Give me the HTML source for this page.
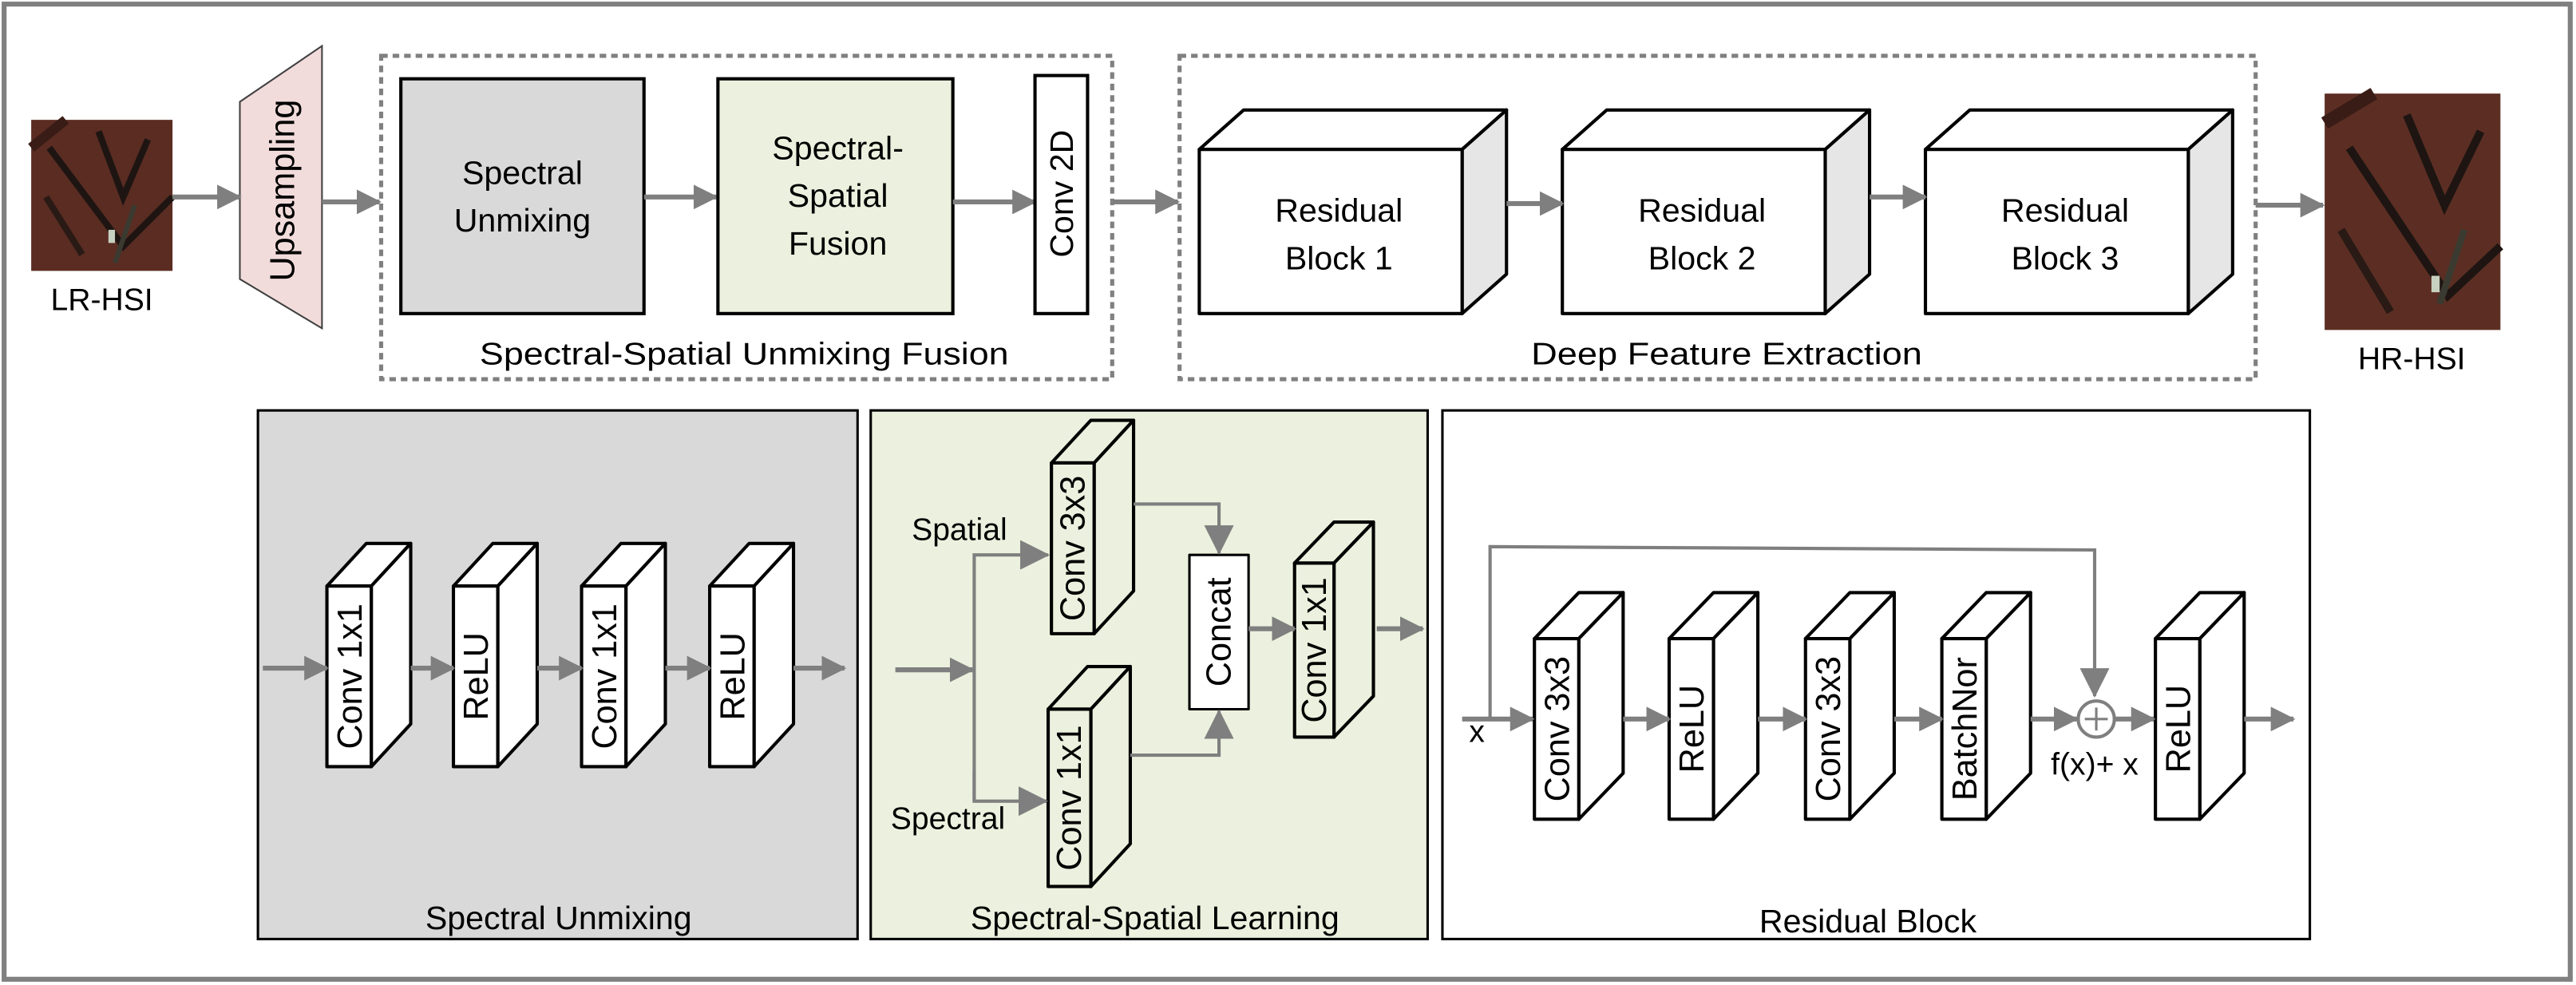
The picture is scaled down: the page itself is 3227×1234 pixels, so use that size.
<!DOCTYPE html>
<html><head><meta charset="utf-8"><style>html,body{margin:0;padding:0;background:#fff}svg{display:block}</style></head><body>
<svg width="3227" height="1234" viewBox="0 0 1568 600" preserveAspectRatio="none" xmlns="http://www.w3.org/2000/svg" font-family="Liberation Sans, sans-serif">
<defs>
<marker id="ah" markerWidth="5" markerHeight="5" refX="4.6" refY="2.5" orient="auto" markerUnits="strokeWidth"><path d="M0,0 L5,2.5 L0,5 z" fill="#7f7f7f"/></marker>
<marker id="ah2" markerWidth="9" markerHeight="9" refX="8.5" refY="4.5" orient="auto" markerUnits="strokeWidth"><path d="M0,0 L9,4.5 L0,9 z" fill="#7f7f7f"/></marker>
</defs>
<rect x="2.5" y="2.5" width="1562" height="594" fill="#fff" stroke="#808080" stroke-width="3"/>

<!-- LR-HSI image -->
<g>
<rect x="19" y="73" width="86" height="92" fill="#5a2c22"/>
<path d="M19,90 L40,73" stroke="#3a1c16" stroke-width="6" fill="none"/>
<path d="M30,90 L75,150 L105,120" stroke="#1e1512" stroke-width="4" fill="none"/>
<path d="M60,80 L75,120 L90,85" stroke="#1e1512" stroke-width="4" fill="none"/>
<path d="M28,120 L50,155" stroke="#2a1a15" stroke-width="4" fill="none"/>
<path d="M82,125 L70,160" stroke="#3a3a30" stroke-width="3" fill="none"/>
<rect x="66" y="140" width="4" height="8" fill="#c8d0c0"/>
</g>
<text x="62" y="189" font-size="19" text-anchor="middle">LR-HSI</text>

<!-- Upsampling -->
<polygon points="146,62 196,28 196,200 146,170" fill="#f2dcdb" stroke="#404040" stroke-width="1"/>
<text transform="translate(179,116) rotate(-90)" font-size="21" text-anchor="middle">Upsampling</text>
<line x1="105" y1="120" x2="146" y2="120" stroke="#7f7f7f" stroke-width="3" marker-end="url(#ah)"/>
<line x1="196" y1="123" x2="231" y2="123" stroke="#7f7f7f" stroke-width="3" marker-end="url(#ah)"/>

<!-- Dashed box 1 -->
<rect x="232" y="34" width="445" height="197" fill="none" stroke="#808080" stroke-width="2.5" stroke-dasharray="4,3"/>
<rect x="244" y="48" width="148" height="143" fill="#d9d9d9" stroke="#000" stroke-width="2"/>
<text x="318" y="112" font-size="20" text-anchor="middle">Spectral</text>
<text x="318" y="141" font-size="20" text-anchor="middle">Unmixing</text>
<line x1="392" y1="120" x2="436" y2="120" stroke="#7f7f7f" stroke-width="3" marker-end="url(#ah)"/>
<rect x="437" y="48" width="143" height="143" fill="#ebf1de" stroke="#000" stroke-width="2"/>
<text x="510" y="97" font-size="20" text-anchor="middle">Spectral-</text>
<text x="510" y="126" font-size="20" text-anchor="middle">Spatial</text>
<text x="510" y="155" font-size="20" text-anchor="middle">Fusion</text>
<line x1="580" y1="123" x2="630" y2="123" stroke="#7f7f7f" stroke-width="3" marker-end="url(#ah)"/>
<rect x="630" y="46" width="32" height="145" fill="#fff" stroke="#000" stroke-width="2"/>
<text transform="translate(653,118) rotate(-90)" font-size="20" text-anchor="middle">Conv 2D</text>
<text x="453" y="222" font-size="19" text-anchor="middle" textLength="322" lengthAdjust="spacingAndGlyphs">Spectral-Spatial Unmixing Fusion</text>
<line x1="677" y1="123" x2="717" y2="123" stroke="#7f7f7f" stroke-width="3" marker-end="url(#ah)"/>

<!-- Dashed box 2 -->
<rect x="718" y="34" width="655" height="197" fill="none" stroke="#808080" stroke-width="2.5" stroke-dasharray="4,3"/>
<g stroke="#000" stroke-width="2" stroke-linejoin="round">
<polygon points="730,91 757,67 917,67 890,91" fill="#fff"/>
<polygon points="890,91 917,67 917,167 890,191" fill="#e6e6e6"/>
<rect x="730" y="91" width="160" height="100" fill="#fff"/>
<polygon points="951,91 978,67 1138,67 1111,91" fill="#fff"/>
<polygon points="1111,91 1138,67 1138,167 1111,191" fill="#e6e6e6"/>
<rect x="951" y="91" width="160" height="100" fill="#fff"/>
<polygon points="1172,91 1199,67 1359,67 1332,91" fill="#fff"/>
<polygon points="1332,91 1359,67 1359,167 1332,191" fill="#e6e6e6"/>
<rect x="1172" y="91" width="160" height="100" fill="#fff"/>
</g>
<text x="815" y="135" font-size="20" text-anchor="middle">Residual</text>
<text x="815" y="164" font-size="20" text-anchor="middle">Block 1</text>
<text x="1036" y="135" font-size="20" text-anchor="middle">Residual</text>
<text x="1036" y="164" font-size="20" text-anchor="middle">Block 2</text>
<text x="1257" y="135" font-size="20" text-anchor="middle">Residual</text>
<text x="1257" y="164" font-size="20" text-anchor="middle">Block 3</text>
<line x1="917" y1="124" x2="951" y2="124" stroke="#7f7f7f" stroke-width="3" marker-end="url(#ah)"/>
<line x1="1138" y1="120" x2="1172" y2="120" stroke="#7f7f7f" stroke-width="3" marker-end="url(#ah)"/>
<text x="1051" y="222" font-size="19" text-anchor="middle" textLength="238" lengthAdjust="spacingAndGlyphs">Deep Feature Extraction</text>
<line x1="1373" y1="125" x2="1414" y2="125" stroke="#7f7f7f" stroke-width="3" marker-end="url(#ah)"/>

<!-- HR-HSI image -->
<g>
<rect x="1415" y="57" width="107" height="144" fill="#5c2e23"/>
<path d="M1415,75 L1445,57" stroke="#3a1c16" stroke-width="8" fill="none"/>
<path d="M1430,90 L1490,180 L1522,150" stroke="#1e1512" stroke-width="5" fill="none"/>
<path d="M1465,70 L1488,125 L1510,80" stroke="#1e1512" stroke-width="5" fill="none"/>
<path d="M1425,140 L1455,190" stroke="#2a1a15" stroke-width="5" fill="none"/>
<path d="M1500,140 L1485,185" stroke="#3a3a30" stroke-width="4" fill="none"/>
<rect x="1480" y="168" width="5" height="10" fill="#c8d0c0"/>
</g>
<text x="1468" y="225" font-size="19" text-anchor="middle">HR-HSI</text>

<!-- Panel 1 -->
<rect x="157" y="250" width="365" height="322" fill="#d9d9d9" stroke="#000" stroke-width="1.5"/>
<g stroke="#000" stroke-width="2" stroke-linejoin="round" fill="#fff">
<polygon points="199,357 223,331 250,331 226,357"/><polygon points="226,357 250,331 250,441 226,467"/><rect x="199" y="357" width="27" height="110"/>
<polygon points="276,357 300,331 327,331 303,357"/><polygon points="303,357 327,331 327,441 303,467"/><rect x="276" y="357" width="27" height="110"/>
<polygon points="354,357 378,331 405,331 381,357"/><polygon points="381,357 405,331 405,441 381,467"/><rect x="354" y="357" width="27" height="110"/>
<polygon points="432,357 456,331 483,331 459,357"/><polygon points="459,357 483,331 483,441 459,467"/><rect x="432" y="357" width="27" height="110"/>
</g>
<g font-size="21" text-anchor="middle">
<text transform="translate(220,412) rotate(-90)">Conv 1x1</text>
<text transform="translate(297,412) rotate(-90)">ReLU</text>
<text transform="translate(375,412) rotate(-90)">Conv 1x1</text>
<text transform="translate(453,412) rotate(-90)">ReLU</text>
</g>
<g stroke="#7f7f7f" stroke-width="3" marker-end="url(#ah)">
<line x1="160" y1="407" x2="199" y2="407"/><line x1="250" y1="407" x2="276" y2="407"/><line x1="327" y1="407" x2="354" y2="407"/><line x1="405" y1="407" x2="432" y2="407"/><line x1="483" y1="407" x2="514" y2="407"/>
</g>
<text x="340" y="566" font-size="20" text-anchor="middle">Spectral Unmixing</text>

<!-- Panel 2 -->
<rect x="530" y="250" width="339" height="322" fill="#ebf1de" stroke="#000" stroke-width="1.5"/>
<g stroke="#000" stroke-width="2" stroke-linejoin="round" fill="#ebf1de">
<polygon points="640,282 664,256 690,256 666,282"/><polygon points="666,282 690,256 690,360 666,386"/><rect x="640" y="282" width="26" height="104"/>
<polygon points="638,432 662,406 688,406 664,432"/><polygon points="664,432 688,406 688,514 664,540"/><rect x="638" y="432" width="26" height="108"/>
<polygon points="788,343 812,318 836,318 812,343"/><polygon points="812,343 836,318 836,424 812,449"/><rect x="788" y="343" width="24" height="106"/>
<rect x="724" y="338" width="36" height="94" fill="#fff" stroke-width="1.5"/>
</g>
<g font-size="21" text-anchor="middle">
<text transform="translate(660,334) rotate(-90)">Conv 3x3</text>
<text transform="translate(658,486) rotate(-90)">Conv 1x1</text>
<text transform="translate(807,396) rotate(-90)">Conv 1x1</text>
<text transform="translate(749,385) rotate(-90)">Concat</text>
</g>
<text x="584" y="329" font-size="19" text-anchor="middle">Spatial</text>
<text x="577" y="505" font-size="19" text-anchor="middle">Spectral</text>
<g stroke="#7f7f7f" stroke-width="2" fill="none">
<line x1="545" y1="408" x2="592" y2="408" stroke-width="3" marker-end="url(#ah)"/>
<polyline points="593,488 593,338 638,338" marker-end="url(#ah2)"/>
<polyline points="593,470 593,488 637,488" marker-end="url(#ah2)"/>
<polyline points="690,307 742,307 742,337" marker-end="url(#ah2)"/>
<polyline points="688,460 742,460 742,433" marker-end="url(#ah2)"/>
<line x1="760" y1="383" x2="788" y2="383" stroke-width="3" marker-end="url(#ah)"/>
<line x1="838" y1="383" x2="866" y2="383" stroke-width="3" marker-end="url(#ah)"/>
</g>
<text x="703" y="566" font-size="20" text-anchor="middle">Spectral-Spatial Learning</text>

<!-- Panel 3 -->
<rect x="878" y="250" width="528" height="322" fill="#fff" stroke="#000" stroke-width="1.5"/>
<g stroke="#000" stroke-width="2" stroke-linejoin="round" fill="#fff">
<polygon points="934,389 961,361 988,361 961,389"/><polygon points="961,389 988,361 988,471 961,499"/><rect x="934" y="389" width="27" height="110"/>
<polygon points="1016,389 1043,361 1070,361 1043,389"/><polygon points="1043,389 1070,361 1070,471 1043,499"/><rect x="1016" y="389" width="27" height="110"/>
<polygon points="1099,389 1126,361 1153,361 1126,389"/><polygon points="1126,389 1153,361 1153,471 1126,499"/><rect x="1099" y="389" width="27" height="110"/>
<polygon points="1182,389 1209,361 1236,361 1209,389"/><polygon points="1209,389 1236,361 1236,471 1209,499"/><rect x="1182" y="389" width="27" height="110"/>
<polygon points="1312,389 1339,361 1366,361 1339,389"/><polygon points="1339,389 1366,361 1366,471 1339,499"/><rect x="1312" y="389" width="27" height="110"/>
</g>
<g font-size="21" text-anchor="middle">
<text transform="translate(955,444) rotate(-90)">Conv 3x3</text>
<text transform="translate(1037,444) rotate(-90)">ReLU</text>
<text transform="translate(1120,444) rotate(-90)">Conv 3x3</text>
<text transform="translate(1203,444) rotate(-90)">BatchNor</text>
<text transform="translate(1333,444) rotate(-90)">ReLU</text>
</g>
<text x="899" y="452" font-size="19" text-anchor="middle">x</text>
<text x="1275" y="472" font-size="19" text-anchor="middle">f(x)+ x</text>
<g stroke="#7f7f7f" stroke-width="2" fill="none">
<polyline points="907,438 907,333 1275,335 1275,424" marker-end="url(#ah2)"/>
<line x1="890" y1="438" x2="933" y2="438" stroke-width="3" marker-end="url(#ah)"/>
<line x1="988" y1="438" x2="1016" y2="438" stroke-width="3" marker-end="url(#ah)"/>
<line x1="1070" y1="438" x2="1099" y2="438" stroke-width="3" marker-end="url(#ah)"/>
<line x1="1153" y1="438" x2="1182" y2="438" stroke-width="3" marker-end="url(#ah)"/>
<line x1="1236" y1="438" x2="1264" y2="438" stroke-width="3" marker-end="url(#ah)"/>
<line x1="1287" y1="438" x2="1311" y2="438" stroke-width="3" marker-end="url(#ah)"/>
<line x1="1366" y1="438" x2="1396" y2="438" stroke-width="3" marker-end="url(#ah)"/>
<circle cx="1276" cy="438" r="11" fill="#fff"/>
<line x1="1276" y1="431" x2="1276" y2="445" stroke-width="1.5"/>
<line x1="1269" y1="438" x2="1283" y2="438" stroke-width="1.5"/>
</g>
<text x="1137" y="568" font-size="20" text-anchor="middle">Residual Block</text>
</svg>
</body></html>
